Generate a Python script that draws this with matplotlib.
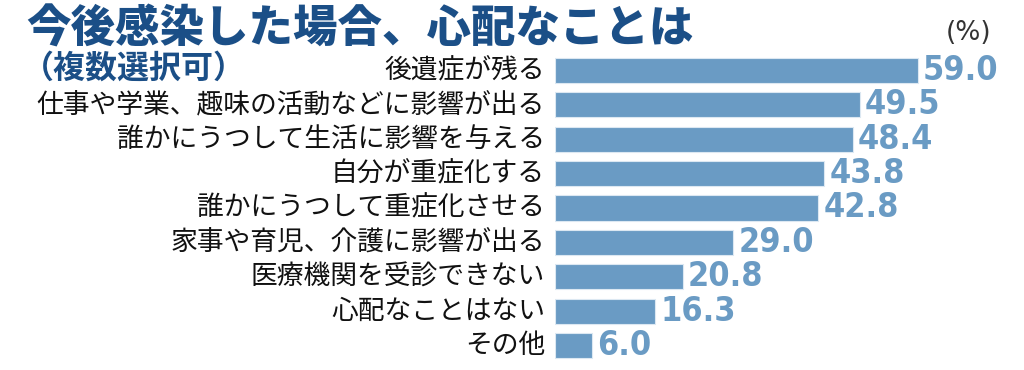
import matplotlib
matplotlib.use("Agg")
import matplotlib.pyplot as plt
from matplotlib import font_manager as fm

categories = ["後遺症が残る", "仕事や学業、趣味の活動などに影響が出る", "誰かにうつして生活に影響を与える",
              "自分が重症化する", "誰かにうつして重症化させる", "家事や育児、介護に影響が出る",
              "医療機関を受診できない", "心配なことはない", "その他"]
values = [59.0, 49.5, 48.4, 43.8, 42.8, 29.0, 20.8, 16.3, 6.0]
value_labels = ["59.0", "49.5", "48.4", "43.8", "42.8", "29.0", "20.8", "16.3", "6.0"]
title = "今後感染した場合、心配なことは"
subtitle = "（複数選択可）"
unit = "(%)"

W, H = 1024, 370
bar_color = "#6a9bc4"
title_color = "#1b4f87"

jp = "Noto Sans CJK JP"
cond = [f.fname for f in fm.fontManager.ttflist
        if "condensed" in f.fname.lower() and "bold" in f.fname.lower() and "oblique" not in f.fname.lower()]

fig = plt.figure(figsize=(W / 100, H / 100), dpi=100)
fig.patch.set_facecolor("white")

left_px, right_px = 555, 1024
top_px, bottom_px = 53.3, 362.7
ax = fig.add_axes([left_px / W, 1 - bottom_px / H, (right_px - left_px) / W, (bottom_px - top_px) / H])
px_per_unit = 363 / 59.0
ax.set_xlim(0, (right_px - left_px) / px_per_unit)
ax.set_ylim(len(categories) - 0.5, -0.5)
ypos = list(range(len(categories)))
ax.barh(ypos, values, height=0.73, color=bar_color, edgecolor="#dce8f2", linewidth=0.8)
ax.axis("off")

if cond:
    num_prop = fm.FontProperties(fname=cond[0], size=24.5)
else:
    num_prop = fm.FontProperties(family="DejaVu Sans", weight="bold", stretch="condensed", size=23)

from matplotlib.transforms import offset_copy
off = offset_copy(ax.transData, fig=fig, x=5, y=0, units="dots")
for y, v, lab in zip(ypos, values, value_labels):
    ax.text(v, y, lab, transform=off, ha="left", va="center",
            fontproperties=num_prop, color=bar_color)

lab_tr = offset_copy(ax.transData, fig=fig, x=-10, y=0, units="dots")
for y, c in zip(ypos, categories):
    ax.text(0, y, c, transform=lab_tr, ha="right", va="center", fontsize=19.3,
            color="#111111", family=[jp, "DejaVu Sans"])

fig.text(26 / W, 1 - 29 / H, title, ha="left", va="center", fontsize=32,
         fontweight="black", color=title_color, family=[jp, "DejaVu Sans"])
fig.text(22 / W, 1 - 69 / H, subtitle, ha="left", va="center", fontsize=23,
         fontweight="bold", color=title_color, family=[jp, "DejaVu Sans"])
fig.text(991 / W, 1 - 33 / H, unit, ha="right", va="center", fontsize=19,
         color="#333333", family="DejaVu Sans")

fig.savefig("out.png", dpi=100, facecolor="white")
